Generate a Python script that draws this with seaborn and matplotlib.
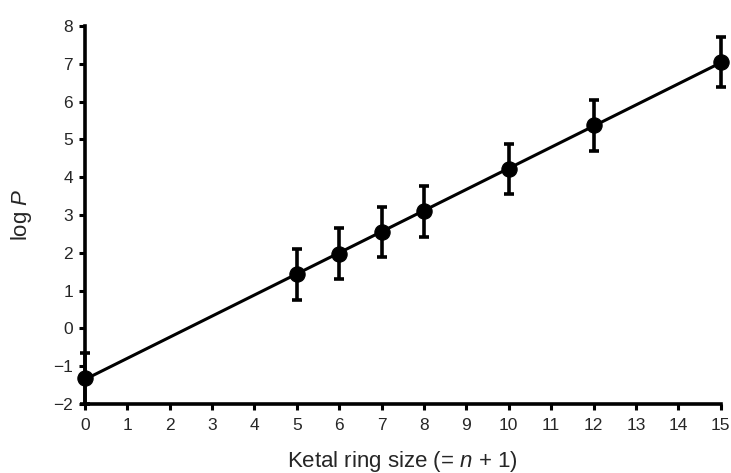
import matplotlib
matplotlib.use("Agg")
import matplotlib.pyplot as plt
import seaborn as sns
import numpy as np
import pandas as pd

# Data
ring_size = [0, 5, 6, 7, 8, 10, 12, 15]
log_p = [-1.32, 1.43, 1.98, 2.55, 3.10, 4.22, 5.37, 7.05]
log_p_err = [0.67, 0.67, 0.67, 0.67, 0.67, 0.67, 0.67, 0.67]
x_ticks = list(range(0, 16))
y_ticks = list(range(-2, 9))

df = pd.DataFrame({"ring": ring_size, "logP": log_p, "err": log_p_err})

sns.set_style("ticks")
plt.rcParams["font.family"] = ["Liberation Sans", "DejaVu Sans"]
plt.rcParams["mathtext.fontset"] = "custom"
plt.rcParams["mathtext.rm"] = "Liberation Sans"
plt.rcParams["mathtext.it"] = "Liberation Sans:italic"

fig = plt.figure(figsize=(7.31, 4.73), dpi=100)
ax = fig.add_axes([0.116, 0.146, 0.870, 0.799])

# regression line
sns.regplot(data=df, x="ring", y="logP", ci=None, scatter=False, ax=ax,
            line_kws={"color": "black", "lw": 2.2})

# points with error bars
ax.errorbar(df["ring"], df["logP"], yerr=df["err"], fmt="none",
            ecolor="black", elinewidth=2.6, capsize=3.8, capthick=2.6,
            clip_on=False, zorder=3)
sns.scatterplot(data=df, x="ring", y="logP", ax=ax, color="black", s=120,
                edgecolor="black", zorder=4, clip_on=False)

ax.set_xlim(0, 15)
ax.set_ylim(-2, 8)
ax.set_xticks(x_ticks)
ax.set_yticks(y_ticks)
ax.set_xlabel("Ketal ring size (= $\\it{n}$ + 1)", fontsize=16, labelpad=12)
ax.set_ylabel("log $\\it{P}$", fontsize=16, labelpad=14)
ax.tick_params(axis="both", labelsize=12.5, width=2.2, length=4, color="black",
               direction="out")
ax.tick_params(axis="x", pad=6)
ax.tick_params(axis="y", pad=4.5)
for side in ["top", "right"]:
    ax.spines[side].set_visible(False)
for side in ["left", "bottom"]:
    ax.spines[side].set_linewidth(2.6)
    ax.spines[side].set_color("black")

fig.savefig("out.png", dpi=100)
